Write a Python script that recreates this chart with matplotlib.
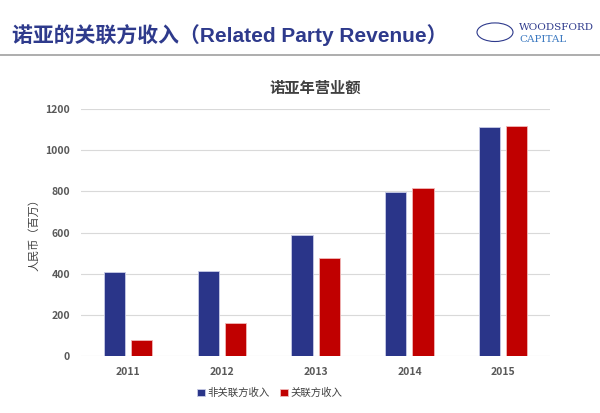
import matplotlib
matplotlib.use("Agg")
import matplotlib.pyplot as plt
from matplotlib.patches import Ellipse
import numpy as np

plt.rcParams['font.family'] = ['Noto Sans CJK SC', 'DejaVu Sans']

years = ["2011", "2012", "2013", "2014", "2015"]
non_related = [410, 415, 590, 795, 1113]
related = [80, 162, 476, 818, 1118]
series_names = ["非关联方收入", "关联方收入"]

fig = plt.figure(figsize=(6, 4.13), dpi=100)
ax = fig.add_axes([0.135, 0.138, 0.782, 0.598])

x = np.arange(len(years))
w = 0.225
off = 0.145
c_blue = "#2A3589"
c_red = "#C00000"
ax.bar(x - off, non_related, w, color=c_blue, edgecolor="#C8CCE6", linewidth=0.6, label=series_names[0], zorder=3)
ax.bar(x + off, related, w, color=c_red, edgecolor="#F0B8B8", linewidth=0.6, label=series_names[1], zorder=3)

ax.set_xlim(-0.5, 4.5)
ax.set_ylim(0, 1200)
ax.set_yticks(range(0, 1201, 200))
ax.set_xticks(x)
ax.set_xticklabels(years)
ax.grid(axis='y', color="#D9D9D9", linewidth=0.8, zorder=0)
for s in ax.spines.values():
    s.set_visible(False)
ax.tick_params(length=0, labelsize=7.5, labelcolor="#595959", pad=8)
for lab in ax.get_xticklabels() + ax.get_yticklabels():
    lab.set_fontweight('bold')
ax.set_ylabel("人民币（百万）", fontsize=8, color="#404040", labelpad=4)

ax.set_title("诺亚年营业额", fontsize=11, fontweight='bold', color="#404040", pad=12)

leg = fig.legend(loc='center', bbox_to_anchor=(0.45, 0.048), ncol=2, frameon=False,
                 fontsize=7.5, handlelength=0.7, handleheight=0.7, handletextpad=0.3,
                 columnspacing=1.0, labelcolor="#404040")

# header
fig.text(0.02, 0.915, "诺亚的关联方收入（Related Party Revenue）", fontsize=15,
         fontweight='bold', color="#2E3A8C", va='center', ha='left',
         family=['Liberation Sans', 'Noto Sans CJK SC'])
fig.add_artist(plt.Line2D([0, 1], [0.868, 0.868], color="#A0A0A0", linewidth=1.2))
fig.add_artist(Ellipse((0.825, 0.922), 0.06, 0.045, facecolor="none",
                       edgecolor="#2E3A8C", linewidth=0.8, transform=fig.transFigure))
fig.text(0.865, 0.934, "WOODSFORD", fontsize=7.5, color="#2E3A8C", family="DejaVu Serif", va='center')
fig.text(0.865, 0.905, "CAPITAL", fontsize=7.5, color="#3A78C0", family="DejaVu Serif", va='center')

fig.savefig("out.png", dpi=100)
